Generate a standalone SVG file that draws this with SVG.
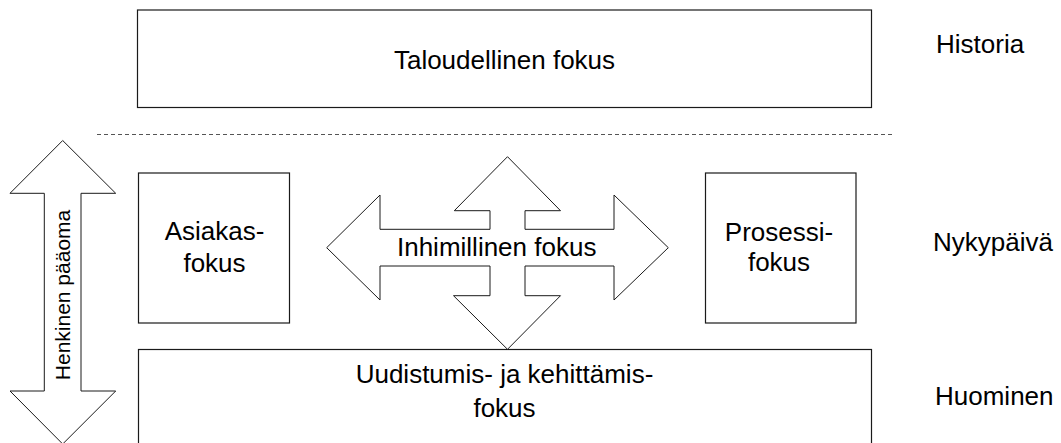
<svg xmlns="http://www.w3.org/2000/svg" width="1061" height="443" viewBox="0 0 1061 443">
  <style>
    .box { fill: #fff; stroke: #1a1a1a; stroke-width: 1.2; }
    .arrow { fill: #fff; stroke: #1a1a1a; stroke-width: 1; stroke-linejoin: miter; }
    .lbl { font-family: "Liberation Sans", Arial, sans-serif; font-size: 26px; fill: #000; }
    .mid { text-anchor: middle; }
    .sep { stroke: #555; stroke-width: 1; stroke-dasharray: 4 3; fill: none; }
  </style>

  <rect width="1061" height="443" fill="#fff"/>

  <!-- time axis labels -->
  <g id="time-labels">
    <text class="lbl" x="936" y="53">Historia</text>
    <text class="lbl" x="933" y="251">Nykypäivä</text>
    <text class="lbl" x="935" y="405">Huominen</text>
  </g>

  <!-- separator between past and present -->
  <g id="connectors">
    <line class="sep" x1="97" y1="134.5" x2="895" y2="134.5"/>
  </g>

  <g id="taloudellinen">
    <rect class="box" x="137.5" y="10" width="734" height="97.5"/>
    <text class="lbl mid" x="504.5" y="69">Taloudellinen fokus</text>
  </g>

  <g id="asiakas">
    <rect class="box" x="138.5" y="173" width="151" height="150"/>
    <text class="lbl mid" x="214.5" y="240">Asiakas-</text>
    <text class="lbl mid" x="214.5" y="271.5">fokus</text>
  </g>

  <g id="prosessi">
    <rect class="box" x="705.5" y="173" width="150.5" height="150"/>
    <text class="lbl mid" x="779" y="240.5">Prosessi-</text>
    <text class="lbl mid" x="779" y="271">fokus</text>
  </g>

  <g id="uudistumis">
    <rect class="box" x="138.5" y="349.5" width="733" height="120"/>
    <text class="lbl mid" x="504.5" y="383">Uudistumis- ja kehittämis-</text>
    <text class="lbl mid" x="504.5" y="416.5">fokus</text>
  </g>

  <!-- four-way arrow in the centre -->
  <g id="inhimillinen">
    <polygon class="arrow" points="326.7,247.7 380,195 380,229.3 490,229.3 490,210.7 454.3,210.7 507.5,156.7 560.5,210.7 525,210.7 525,229.3 614,229.3 614,195 668.3,247.7 614,300 614,266 525,266 525,295.7 560.5,295.7 507.5,349.3 453.5,295.7 490,295.7 490,266 380,266 380,300"/>
    <text class="lbl mid" x="496.7" y="256">Inhimillinen fokus</text>
  </g>

  <!-- vertical double arrow on the left -->
  <g id="henkinen">
    <polygon class="arrow" points="62.7,140.5 115.7,193.3 81,193.3 81,391 115.7,391 62.7,444 10,391 44.3,391 44.3,193.3 10,193.3"/>
    <text class="lbl mid" style="font-size:21px" transform="translate(70,295) rotate(-90)">Henkinen pääoma</text>
  </g>
</svg>
